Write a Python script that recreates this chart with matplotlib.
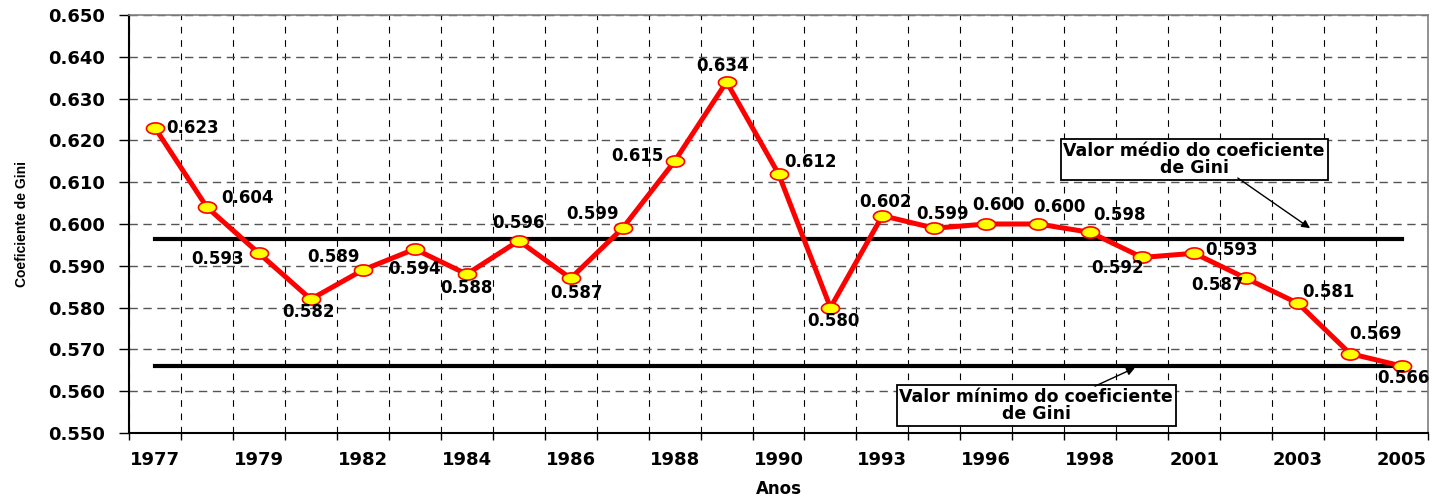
import numpy as np
import matplotlib
matplotlib.use("Agg")
import matplotlib.pyplot as plt
from matplotlib.path import Path
from matplotlib.ticker import FixedLocator, MultipleLocator, FormatStrFormatter

years = ["1977", "1978", "1979", "1981", "1982", "1983", "1984", "1985", "1986",
         "1987", "1988", "1989", "1990", "1992", "1993", "1995", "1996", "1997",
         "1998", "1999", "2001", "2002", "2003", "2004", "2005"]
gini = [0.623, 0.604, 0.593, 0.582, 0.589, 0.594, 0.588, 0.596, 0.587, 0.599,
        0.615, 0.634, 0.612, 0.580, 0.602, 0.599, 0.600, 0.600, 0.598, 0.592,
        0.593, 0.587, 0.581, 0.569, 0.566]
mean_value = 0.5965
min_value = 0.566
value_labels = ["%.3f" % v for v in gini]

# label offsets in pixels (dx, dy downward)
label_offsets = [(38, 0), (41, -9), (-41, 6), (-2, 13), (-29, -13), (0, 20),
                 (0, 14), (0, -18), (6, 15), (-30, -14), (-37, -5), (-4, -16),
                 (32, -12), (3, 13), (3, -14), (8, -14), (12, -19), (21, -17),
                 (29, -17), (-25, 11), (37, -3), (-29, 7), (30, -11), (25, -20),
                 (1, 12)]

W, H = 1432, 499
fig = plt.figure(figsize=(W / 100, H / 100), dpi=100)
L, R, T, B = 129, 1428, 15, 433
ax = fig.add_axes([L / W, 1 - B / H, (R - L) / W, (B - T) / H])

n = len(gini)
x = np.arange(n)

# ellipse marker
t = np.linspace(0, 2 * np.pi, 60)
ell = Path(np.column_stack([np.cos(t), 0.62 * np.sin(t)]), closed=True)

ax.plot(x, [mean_value] * n, color="black", lw=3.0, zorder=3)
ax.plot(x, [min_value] * n, color="black", lw=3.0, zorder=3)
ax.plot(x, gini, color="#ff0000", lw=3.6, marker=ell, markersize=13,
        markerfacecolor="#ffff00", markeredgecolor="#ff0000",
        markeredgewidth=1.2, zorder=4)

lab_font = dict(family="DejaVu Sans", fontsize=12, fontweight="bold")
for i, (v, lab) in enumerate(zip(gini, value_labels)):
    dx, dy = label_offsets[i]
    ax.annotate(lab, (x[i], v), xytext=(dx, -dy), textcoords="offset pixels",
                ha="center", va="center", zorder=5, **lab_font)

ax.set_xlim(-0.5, n - 0.5)
ax.set_ylim(0.550, 0.650)

ax.xaxis.set_major_locator(FixedLocator(x[::2]))
ax.set_xticklabels(years[::2])
ax.xaxis.set_minor_locator(FixedLocator(np.arange(n + 1) - 0.5))
ax.tick_params(axis="x", which="major", length=0, pad=13)
ax.tick_params(axis="x", which="minor", length=5, width=1, direction="out", color="black")
ax.yaxis.set_major_locator(MultipleLocator(0.01))
ax.yaxis.set_major_formatter(FormatStrFormatter("%.3f"))
ax.tick_params(axis="y", which="major", length=7, width=1, direction="out", pad=10)
for lbl in ax.get_xticklabels() + ax.get_yticklabels():
    lbl.set_family("DejaVu Sans")
    lbl.set_fontweight("bold")
    lbl.set_fontsize(13)

ax.grid(True, axis="x", which="minor", color="black", lw=0.8, linestyle=(0, (6, 6)))
ax.grid(True, axis="y", which="major", color="#555555", lw=1.0, linestyle=(0, (6, 4)))
ax.set_axisbelow(True)

for s in ["left", "bottom"]:
    ax.spines[s].set_color("black")
    ax.spines[s].set_linewidth(1.5)
for s in ["top", "right"]:
    ax.spines[s].set_color("#808080")
    ax.spines[s].set_linewidth(1.2)

ax.set_ylabel("Coeficiente de Gini", family="Liberation Sans", fontweight="bold",
              fontsize=10, labelpad=14)
ax.set_xlabel("Anos", family="DejaVu Sans", fontweight="bold", fontsize=12, labelpad=8)

box_font = dict(family="DejaVu Sans", fontsize=12.5, fontweight="bold")
bbox = dict(boxstyle="square,pad=0.15", facecolor="white", edgecolor="black", lw=1.3)
ax.text(20.0, 0.6154, "Valor médio do coeficiente\nde Gini", ha="center", va="center",
        linespacing=0.95, bbox=bbox, zorder=6, **box_font)
ax.annotate("", xy=(22.23, 0.5990), xytext=(20.84, 0.6110),
            arrowprops=dict(arrowstyle="-|>", color="black", lw=1.0,
                            mutation_scale=12, shrinkA=0, shrinkB=0), zorder=6)
ax.text(16.96, 0.5566, "Valor mínimo do coeficiente\nde Gini", ha="center", va="center",
        linespacing=0.95, bbox=bbox, zorder=6, **box_font)
ax.annotate("", xy=(18.86, 0.5656), xytext=(18.09, 0.5612),
            arrowprops=dict(arrowstyle="-|>", color="black", lw=1.0,
                            mutation_scale=12, shrinkA=0, shrinkB=0), zorder=6)

fig.savefig("out.png", dpi=100, facecolor="white")
